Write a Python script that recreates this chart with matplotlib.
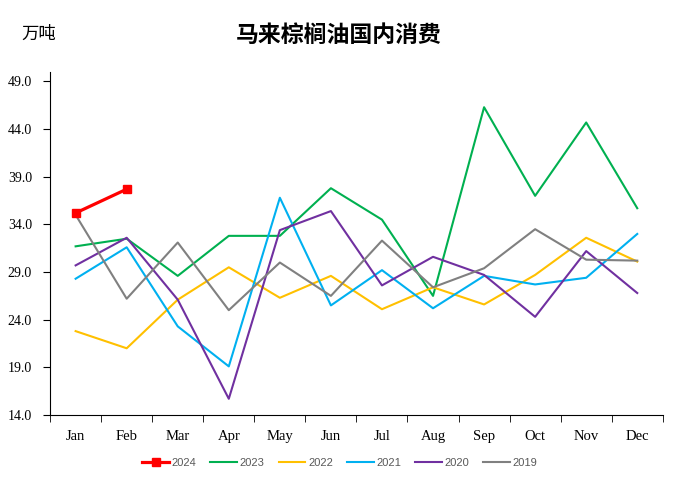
import matplotlib
matplotlib.use("Agg")
import matplotlib.pyplot as plt
import numpy as np

months = ["Jan", "Feb", "Mar", "Apr", "May", "Jun",
          "Jul", "Aug", "Sep", "Oct", "Nov", "Dec"]

y2024 = [35.2, 37.7]
y2023 = [31.7, 32.5, 28.6, 32.8, 32.8, 37.8, 34.5, 26.5, 46.3, 37.0, 44.7, 35.7]
y2022 = [22.8, 21.0, 26.1, 29.5, 26.3, 28.6, 25.1, 27.4, 25.6, 28.7, 32.6, 30.1]
y2021 = [28.3, 31.6, 23.3, 19.1, 36.8, 25.5, 29.2, 25.2, 28.6, 27.7, 28.4, 33.0]
y2020 = [29.7, 32.6, 26.1, 15.7, 33.4, 35.4, 27.6, 30.6, 28.7, 24.3, 31.2, 26.8]
y2019 = [35.0, 26.2, 32.1, 25.0, 30.0, 26.5, 32.3, 27.4, 29.4, 33.5, 30.3, 30.2]

yticks = [14.0, 19.0, 24.0, 29.0, 34.0, 39.0, 44.0, 49.0]

serif = ["Liberation Serif", "DejaVu Serif"]
cjk = ["Noto Sans CJK SC", "DejaVu Sans"]

fig = plt.figure(figsize=(6.77, 4.84), dpi=100)
ax = fig.add_axes([0.074, 0.1426, 0.905, 0.7087])

x = np.arange(len(months))
ax.plot(x[:len(y2024)], y2024, color="#FF0000", lw=2.3, marker="s",
        markersize=5.5, label="2024", zorder=7)
series = [("2023", y2023, "#00B050"), ("2022", y2022, "#FFC000"),
          ("2021", y2021, "#00B0F0"), ("2020", y2020, "#7030A0"),
          ("2019", y2019, "#808080")]
for name, vals, col in series:
    ax.plot(x, vals, color=col, lw=1.5, label=name)

ax.set_xlim(-0.5, 11.5)
ax.set_ylim(14, 50)
ax.set_yticks(yticks)
ax.set_yticklabels([f"{v:.1f}" for v in yticks], family=serif, fontsize=10)
ax.set_xticks(x)
ax.set_xticklabels(months, family=serif, fontsize=10.5)
ax.set_xticks(np.arange(-0.5, 12, 1), minor=True)
ax.tick_params(axis="x", which="major", length=0, pad=11)
ax.tick_params(axis="x", which="minor", length=5, direction="out")
ax.tick_params(axis="y", length=5, direction="out", pad=8)
for s in ("top", "right"):
    ax.spines[s].set_visible(False)

fig.text(0.5, 0.926, "马来棕榈油国内消费", ha="center", va="center",
         family=cjk, fontsize=16.5, fontweight="bold")
fig.text(0.032, 0.93, "万吨", ha="left", va="center", family=cjk, fontsize=12.5)

handles, labels = ax.get_legend_handles_labels()
leg = fig.legend(handles, labels, loc="center", bbox_to_anchor=(0.502, 0.0434),
                 ncol=6, frameon=False, prop={"family": "Liberation Sans", "size": 8},
                 handlelength=2.4, handletextpad=0.25, columnspacing=1.25)
for t in leg.get_texts():
    t.set_color("#595959")

fig.savefig("out.png", dpi=100)
